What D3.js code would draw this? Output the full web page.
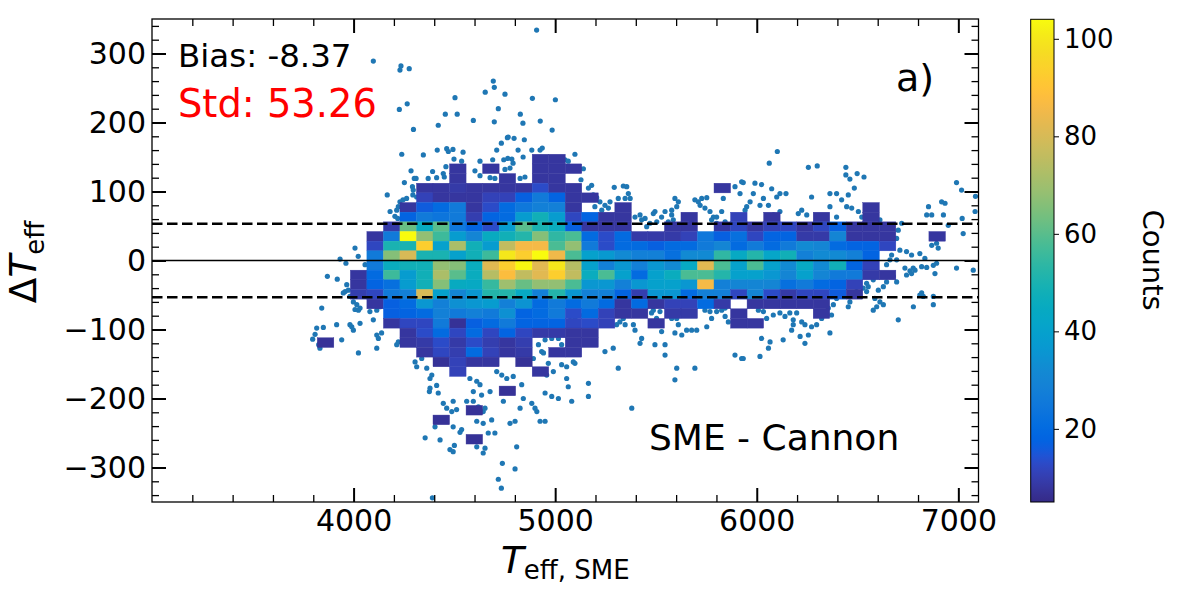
<!DOCTYPE html>
<html>
<head>
<meta charset="utf-8">
<script src="https://cdn.jsdelivr.net/npm/d3@7"></script>
<style>
  body { margin: 0; background: #fff; }
  svg { display: block; font-family: "DejaVu Sans", sans-serif; }
</style>
</head>
<body>
<svg id="chart" width="1200" height="600"></svg>
<script>
// ---- data ----
const bias = -8.37
const std = 53.26

// left edge of each Teff bin (bin width 82 K) and bottom of each dTeff bin (14 K)
const teffBinWidth = 82
const dteffBinHeight = 14
const teffLeft = [3820,3902,3984,4066,4148,4230,4312,4394,4476,4558,4640,4722,4804,4886,4968,5050,5132,5214,5296,5378,
                  5460,5542,5624,5706,5788,5870,5952,6034,6116,6198,6280,6362,6444,6526,6608,6690,6772,6854,6936]
const dteffBottom = [140,126,112,98,84,70,56,42,28,14,0,-14,-28,-42,-56,-70,-84,-98,-112,-126,
                     -140,-154,-168,-182,-196,-210,-224,-238,-252,-266]

// counts per cell, one row per dteffBottom, one column per teffLeft (0 = below cmin, not drawn)
const counts = [
  [0,0,0,0,0,0,0,0,0,0, 0,0,0,8,8,0,0,0,0,0, 0,0,0,0,0,0,0,0,0,0, 0,0,0,0,0,0,0,0,0],
  [0,0,0,0,0,0,0,0,8,0, 8,0,0,8,8,8,0,0,0,0, 0,0,0,0,0,0,0,0,0,0, 0,0,0,0,0,0,0,0,0],
  [0,0,0,0,0,0,0,0,8,0, 0,8,0,8,8,0,0,0,0,0, 0,0,0,0,0,0,0,0,0,0, 0,0,0,0,0,0,0,0,0],
  [0,0,0,0,0,0,8,8,9,8, 8,8,8,13,8,8,0,0,0,0, 0,0,0,0,8,0,0,0,0,0, 0,0,0,0,0,0,0,0,0],
  [0,0,0,0,0,0,11,8,8,8, 11,11,17,26,18,8,8,0,0,0, 0,0,0,0,0,0,0,0,0,0, 0,0,0,0,0,0,0,0,0],
  [0,0,0,0,0,8,16,20,26,8, 13,20,25,28,28,8,0,0,8,0, 0,0,0,0,0,0,0,0,0,0, 0,0,0,8,0,0,0,0,0],
  [0,0,0,0,0,18,26,24,26,10, 18,20,38,48,38,12,18,8,8,0, 0,0,8,0,0,11,0,8,0,0, 8,0,0,8,0,0,0,0,0],
  [0,0,0,0,9,62,45,60,25,18, 13,38,60,50,46,17,8,8,8,0, 0,8,8,0,8,12,8,11,12,8, 12,17,8,8,8,0,0,0,0],
  [0,0,0,8,26,104,68,56,38,30, 45,48,52,66,54,58,20,13,20,9, 9,9,11,25,17,22,12,18,18,9, 9,30,8,8,8,0,0,8,0],
  [0,0,0,12,50,50,93,40,72,48, 38,76,86,86,58,68,26,13,20,20, 17,20,20,26,30,20,26,20,26,32, 30,20,18,18,12,0,0,0,0],
  [0,0,0,26,66,80,50,50,40,48, 56,100,93,104,85,58,40,37,32,28, 28,22,32,32,54,44,52,42,48,28, 32,32,28,18,0,0,0,0,0],
  [0,0,0,26,46,48,48,68,66,46, 82,93,103,82,100,74,40,28,36,28, 36,32,44,82,58,40,58,40,32,44, 32,48,18,11,0,0,0,0,0],
  [0,0,8,20,56,38,48,72,60,46, 74,88,76,82,93,76,46,58,40,20, 40,46,58,58,52,40,40,36,30,40, 30,26,26,9,8,0,0,0,0],
  [0,0,8,18,22,38,48,66,45,44, 55,70,62,68,68,58,36,36,28,36, 40,40,36,86,28,30,30,30,22,26, 20,18,11,0,0,0,0,0,0],
  [0,0,10,12,26,28,80,40,30,36, 52,52,44,28,52,36,28,28,18,10, 36,36,20,28,28,12,30,13,9,12, 12,16,8,0,0,0,0,0,0],
  [0,0,0,8,17,20,36,28,34,36, 38,28,35,20,26,20,26,20,8,20, 8,11,11,20,9,0,8,8,8,8, 8,0,0,0,0,0,0,0,0],
  [0,0,0,0,17,18,20,28,26,28, 26,34,18,20,26,13,20,11,8,8, 0,9,9,0,0,8,0,0,0,0, 8,0,0,0,0,0,0,0,0],
  [0,0,0,0,8,12,12,26,7,17, 20,26,18,18,18,12,13,11,0,0, 8,0,0,0,0,8,8,0,0,0, 0,0,0,0,0,0,0,0,0],
  [0,0,0,0,0,8,13,20,12,20, 12,18,12,9,9,8,8,0,0,0, 0,0,0,0,0,0,0,0,0,0, 0,0,0,0,0,0,0,0,0],
  [7,0,0,0,0,8,9,13,9,13, 10,8,10,0,0,8,8,0,0,0, 0,0,0,0,0,0,0,0,0,0, 0,0,0,0,0,0,0,0,0],
  [0,0,0,0,0,0,8,12,10,20, 11,8,9,0,8,8,0,0,0,0, 0,0,0,0,0,0,0,0,0,0, 0,0,0,0,0,0,0,0,0],
  [0,0,0,0,0,0,0,7,11,8, 8,0,7,0,0,0,0,0,0,0, 0,0,0,0,0,0,0,0,0,0, 0,0,0,0,0,0,0,0,0],
  [0,0,0,0,0,0,0,0,11,0, 0,0,0,8,0,0,0,0,0,0, 0,0,0,0,0,0,0,0,0,0, 0,0,0,0,0,0,0,0,0],
  [0,0,0,0,0,0,0,0,0,0, 0,0,0,0,0,0,0,0,0,0, 0,0,0,0,0,0,0,0,0,0, 0,0,0,0,0,0,0,0,0],
  [0,0,0,0,0,0,0,0,0,0, 0,7,0,0,0,0,0,0,0,0, 0,0,0,0,0,0,0,0,0,0, 0,0,0,0,0,0,0,0,0],
  [0,0,0,0,0,0,0,0,0,0, 0,0,0,0,0,0,0,0,0,0, 0,0,0,0,0,0,0,0,0,0, 0,0,0,0,0,0,0,0,0],
  [0,0,0,0,0,0,0,0,0,7, 0,0,0,0,0,0,0,0,0,0, 0,0,0,0,0,0,0,0,0,0, 0,0,0,0,0,0,0,0,0],
  [0,0,0,0,0,0,0,7,0,0, 0,0,0,0,0,0,0,0,0,0, 0,0,0,0,0,0,0,0,0,0, 0,0,0,0,0,0,0,0,0],
  [0,0,0,0,0,0,0,0,0,0, 0,0,0,0,0,0,0,0,0,0, 0,0,0,0,0,0,0,0,0,0, 0,0,0,0,0,0,0,0,0],
  [0,0,0,0,0,0,0,0,0,7, 0,0,0,0,0,0,0,0,0,0, 0,0,0,0,0,0,0,0,0,0, 0,0,0,0,0,0,0,0,0]
]

// single stars outside the dense bins: [Teff_SME, dTeff]
const stars = [
  [4239,154],[4346,153],[4415,160],[4462,162],[4470,158],[4493,161],[4543,157],[4710,160],[4816,160],[4841,150],
  [4745,146],[4765,148],[4785,147],[4690,146],[4627,144],[4536,144],[4498,147],[4458,136],[4445,126],[4450,121],
  [4392,129],[4412,120],[4370,119],[4285,130],[4310,119],[4301,119],[4252,113],[4292,107],[4296,102],[4167,95],
  [4181,71],[4230,85],[4222,78],[4214,73],[4205,64],[4219,61],[4245,88],[4263,90],[4294,95],[4313,92],
  [4602,130],[4627,123],[4677,120],[4701,119],[4776,134],[4751,132],[4791,141],[4826,119],[4850,121],
  [3962,-4],[3933,2],[4007,18],[4023,6],[4057,-6],[3870,-23],[3919,-27],[3966,-35],[3958,-45],[3949,-47],
  [3974,-43],[3982,-52],[3999,-60],[4016,-64],[4007,-71],[4024,-72],[4032,-69],[3842,-69],[4081,-74],[4098,-86],
  [4115,-72],[4131,-67],[3991,-96],[3999,-101],[3982,-93],[4032,-91],[3817,-98],[3850,-97],[3809,-107],[3797,-114],
  [3827,-122],[3833,-127],[3916,-93],[3941,-115],[4024,-134],[4115,-108],[4123,-113],[4139,-105],[4115,-127],[4164,-76],
  [4181,-89],[4214,-122],[4222,-118],[4305,-147],[4313,-154],[4338,-142],[4363,-156],[4379,-171],[4388,-166],[4412,-181],
  [4420,-192],[4376,-190],[4379,-185],[4445,-207],[4462,-214],[4494,-204],[4487,-219],[4511,-216],[4412,-233],[4404,-241],
  [4494,-241],[4536,-245],[4528,-249],[4355,-257],[4429,-260],[4478,-274],[4494,-277],[4561,-204],[4594,-204],[4619,-212],
  [4643,-219],[4652,-214],[4611,-233],[4643,-236],[4685,-231],[4701,-250],[4668,-250],[4611,-270],[4652,-272],[4643,-279],
  [4611,-175],[4627,-180],[4577,-171],[4594,-190],[4635,-195],[4677,-190],[4710,-161],[4735,-166],[4760,-171],[4792,-168],
  [4834,-180],[4842,-200],[4826,-214],[4776,-236],[4801,-233],[4809,-270],[4743,-204],[4500,-268],[4738,-294],[4801,-302],
  [4718,-317],[4733,-330],[4391,-344],
  [4908,334],[4098,289],[4235,282],[4230,276],[4276,278],[4227,219],[4266,227],[4297,190],[4693,260],[4698,251],
  [4653,244],[4751,241],[4503,236],[4455,212],[4514,212],[4420,196],[4718,220],[4594,203],[4698,201],[4887,235],
  [5001,233],[4827,212],[4840,199],[4926,202],[4985,189],[4733,170],[4763,178],[4767,179],[4796,177],[4847,175],
  [4884,160],[4925,160],[4936,163],[5098,154],[5049,146],[5065,144],[5140,133],[5128,117],[5165,105],[5181,109],
  [5189,95],[5206,91],[5222,85],[5197,78],[5231,73],[5247,80],[5264,76],[5272,85],[5293,106],[5338,108],
  [5355,107],[5363,97],[5372,90],[5347,90],[5313,90],[5421,66],[5446,61],[5454,49],[5487,68],[5495,71],
  [5528,63],[5545,71],[5578,73],[5578,66],[5603,78],[5611,85],[5594,90],[5693,88],[5710,85],[5727,90],
  [5752,91],[5719,80],[5743,76],[5768,71],[5785,63],[5801,63],[5826,71],[5834,90],[5851,107],[5892,107],
  [5917,97],[5925,114],[5826,107],[5396,63],[5429,59],[5470,54],[5504,56],[5561,56],[5586,59],[5644,51],
  [5677,56],[5776,59],[5801,54],[5843,56],
  [5098,-84],[5140,-79],[5115,-76],[5074,-81],[5280,-91],[5305,-93],[5321,-89],[5338,-84],[5347,-93],[5388,-93],
  [5396,-101],[5421,-120],[5429,-113],[5478,-76],[5503,-84],[5512,-93],[5528,-103],[5545,-122],[5495,-122],[5578,-84],
  [5603,-84],[5611,-93],[5628,-108],[5652,-101],[5677,-101],[5702,-101],[5752,-96],[5776,-84],[5801,-74],[5826,-72],
  [5843,-81],[5859,-89],[5892,-91],[5892,-137],[5925,-142],[5603,-156],[5693,-156],[5594,-173],[5545,-137],[5313,-156],
  [5247,-132],[5288,-127],[5165,-178],[5165,-197],[5082,-204],[5016,-200],[4983,-197],[4950,-192],[4900,-214],[4909,-219],
  [4884,-207],[4925,-233],[4950,-233],[5057,-171],[5065,-183],[5098,-149],[5090,-147],[5057,-154],[5032,-151],[4966,-149],
  [4991,-161],[4958,-166],[5380,-214],[4917,-122],[4933,-132],[4942,-134],[4892,-142],[4950,-115],[4983,-113],[5016,-113],
  [5032,-122],[5594,-105],[5487,-72],[5520,-74],[5578,-74],[5628,-76],[5685,-74],[5743,-72],[5768,-74],[5843,-69],
  [5909,-74],
  [6102,158],[6062,141],[6256,135],[6300,137],[6442,135],[6442,124],[6462,118],[6498,126],[6532,121],[6484,105],
  [5933,113],[5991,112],[6024,110],[6074,104],[6099,92],[6115,97],[6145,97],[6033,90],[5983,97],[6272,92],
  [6363,97],[6396,97],[6421,88],[6454,95],[6446,78],[6471,76],[5967,85],[5950,78],[5942,73],[6016,80],
  [6058,80],[6083,66],[6115,71],[6206,68],[6223,73],[6248,66],[6363,78],[6396,63],[6504,71],[6521,63],
  [6611,59],[6628,51],[6719,54],[6702,44],[6852,78],[6868,66],[6843,66],[6917,85],[6934,83],[6926,66],
  [6950,51],[6991,113],[7016,102],[7019,61],[7024,39],[6694,32],[6710,15],[6743,13],[6768,8],[6809,10],
  [6868,22],[6892,25],[6900,18],[6884,34],[6834,3],[6669,8],[6694,1],[6661,1],[6735,-11],[6760,-15],
  [6776,-11],[6785,-14],[6743,-21],[6768,-19],[6818,-9],[6843,-10],[6876,-7],[6884,-19],[6892,-4],[6991,-11],
  [6644,-6],[6677,-23],[6694,-31],[6644,-31],[6628,-38],[6603,-43],[6578,-28],[6553,-38],[6545,-45],[6586,-55],
  [6611,-60],[6628,-64],[6595,-67],[6578,-72],[6462,-60],[6454,-67],[6396,-55],[6380,-64],[6355,-69],[6347,-76],
  [6371,-79],[6322,-84],[6297,-93],[6272,-96],[6239,-93],[6223,-89],[6181,-86],[6198,-76],[6164,-76],[6140,-81],
  [6115,-76],[6082,-79],[6049,-84],[6033,-74],[6008,-72],[6181,-93],[6173,-101],[6215,-110],[6256,-108],[6131,-115],
  [6066,-118],[6058,-127],[6024,-113],[5933,-142],[6016,-139],[6363,-105],[6239,-120],[6702,-86],[6777,-67],[6809,-50],
  [6876,-64],[6826,-52],[6876,-52],[6818,-47],[6495,-45],[6528,-40],[6545,-33],[6479,-52],[7083,71],[7074,-14],
  [7085,93]
]

const xMajor = [4000, 5000, 6000, 7000]
const yMajor = [-300, -200, -100, 0, 100, 200, 300]
const cbTicks = [20, 40, 60, 80, 100]
const countRange = [5, 104]

// parula colormap (64 steps)
const parula = [
  [0.2081,0.1663,0.5292],[0.2116,0.1898,0.5777],[0.2123,0.2138,0.6270],[0.2081,0.2386,0.6771],
  [0.1959,0.2645,0.7279],[0.1707,0.2919,0.7792],[0.1253,0.3242,0.8303],[0.0591,0.3598,0.8683],
  [0.0117,0.3875,0.8820],[0.0060,0.4086,0.8828],[0.0165,0.4266,0.8786],[0.0329,0.4430,0.8720],
  [0.0498,0.4586,0.8641],[0.0629,0.4737,0.8554],[0.0723,0.4887,0.8467],[0.0779,0.5040,0.8384],
  [0.0793,0.5200,0.8312],[0.0749,0.5375,0.8263],[0.0641,0.5570,0.8240],[0.0488,0.5772,0.8228],
  [0.0343,0.5966,0.8199],[0.0265,0.6137,0.8135],[0.0239,0.6287,0.8038],[0.0231,0.6418,0.7913],
  [0.0228,0.6535,0.7768],[0.0267,0.6642,0.7607],[0.0384,0.6743,0.7436],[0.0590,0.6838,0.7254],
  [0.0843,0.6928,0.7062],[0.1133,0.7015,0.6859],[0.1453,0.7098,0.6646],[0.1801,0.7177,0.6424],
  [0.2178,0.7250,0.6193],[0.2586,0.7317,0.5954],[0.3022,0.7376,0.5712],[0.3482,0.7424,0.5473],
  [0.3953,0.7459,0.5244],[0.4420,0.7481,0.5033],[0.4871,0.7491,0.4840],[0.5300,0.7491,0.4661],
  [0.5709,0.7485,0.4494],[0.6099,0.7473,0.4337],[0.6473,0.7456,0.4188],[0.6834,0.7435,0.4044],
  [0.7184,0.7411,0.3905],[0.7525,0.7384,0.3768],[0.7858,0.7356,0.3633],[0.8185,0.7327,0.3498],
  [0.8507,0.7299,0.3360],[0.8824,0.7274,0.3217],[0.9139,0.7258,0.3063],[0.9450,0.7261,0.2886],
  [0.9739,0.7314,0.2666],[0.9938,0.7455,0.2403],[0.9990,0.7653,0.2164],[0.9955,0.7861,0.1967],
  [0.9880,0.8066,0.1794],[0.9789,0.8271,0.1633],[0.9697,0.8481,0.1475],[0.9626,0.8705,0.1309],
  [0.9589,0.8949,0.1132],[0.9598,0.9218,0.0948],[0.9661,0.9514,0.0755],[0.9763,0.9831,0.0538]
].map(c => d3.rgb(c[0]*255, c[1]*255, c[2]*255).formatHex())

// ---- layout ----
const svg = d3.select('#chart')
const pL = 152, pR = 978.5, pT = 19, pB = 502

const x = d3.scaleLinear().domain([3000, 7100]).range([pL, pR])
const y = d3.scaleLinear().domain([-350, 350]).range([pB, pT])
const color = d3.scaleSequential(d3.piecewise(d3.interpolateRgb, parula)).domain(countRange)

svg.append('clipPath').attr('id', 'plotclip')
  .append('rect').attr('x', pL).attr('y', pT).attr('width', pR - pL).attr('height', pB - pT)

const plot = svg.append('g').attr('clip-path', 'url(#plotclip)')

// stars first, the histogram sits on top
plot.append('g').selectAll('circle')
  .data(stars)
  .join('circle')
  .attr('cx', d => x(d[0]))
  .attr('cy', d => y(d[1]))
  .attr('r', 2.6)
  .attr('fill', '#1f77b4')

// flatten grid into cells
const cells = []
dteffBottom.forEach((b, i) => {
  teffLeft.forEach((t, j) => {
    const n = counts[i][j]
    if (n > 0) cells.push({ t, b, n })
  })
})

plot.append('g').selectAll('rect')
  .data(cells)
  .join('rect')
  .attr('x', d => x(d.t))
  .attr('y', d => y(d.b + dteffBinHeight))
  .attr('width', d => x(d.t + teffBinWidth) - x(d.t))
  .attr('height', d => y(d.b) - y(d.b + dteffBinHeight))
  .attr('fill', d => color(d.n))
  .attr('stroke', d => color(d.n))
  .attr('stroke-width', 0.4)

// zero line and +-std lines
plot.append('line')
  .attr('x1', pL).attr('x2', pR)
  .attr('y1', y(0)).attr('y2', y(0))
  .attr('stroke', '#000').attr('stroke-width', 1.3)

plot.selectAll('line.std')
  .data([std, -std])
  .join('line')
  .attr('class', 'std')
  .attr('x1', pL).attr('x2', pR)
  .attr('y1', d => y(d)).attr('y2', d => y(d))
  .attr('stroke', '#000').attr('stroke-width', 2.6)
  .attr('stroke-dasharray', '10.5,4.5')

// ---- axes (ticks inward on all four sides) ----
const fmt = d3.format('d')
const xMinor = d3.range(3200, 7100, 200).filter(v => !xMajor.includes(v))
const yMinor = d3.range(-340, 350, 20).filter(v => !yMajor.includes(v))

function styleAxis(g, fontSize) {
  // d3 puts font-family="sans-serif" on the group; drop it so DejaVu Sans is inherited
  g.attr('font-family', null).attr('font-size', null)
  g.select('.domain').remove()
  g.selectAll('.tick line').attr('stroke', '#000')
  g.selectAll('text').attr('fill', '#000').style('font-size', fontSize)
}

function addAxis(axisFn, scale, pos, majors, minors, labels) {
  const gMin = svg.append('g').attr('transform', pos)
    .call(axisFn(scale).tickValues(minors).tickSize(-7).tickFormat(''))
  styleAxis(gMin, '0px')
  gMin.selectAll('.tick line').attr('stroke-width', 1.3)
  const gMaj = svg.append('g').attr('transform', pos)
    .call(axisFn(scale).tickValues(majors).tickSize(-14).tickPadding(labels ? 8 : 0)
      .tickFormat(labels ? fmt : ''))
  styleAxis(gMaj, '30px')
  gMaj.selectAll('.tick line').attr('stroke-width', 2)
  return gMaj
}

addAxis(d3.axisBottom, x, `translate(0,${pB})`, xMajor, xMinor, true)
addAxis(d3.axisTop, x, `translate(0,${pT})`, xMajor, xMinor, false)
const yAx = addAxis(d3.axisLeft, y, `translate(${pL},0)`, yMajor, yMinor, true)
yAx.selectAll('text').attr('x', -6)
addAxis(d3.axisRight, y, `translate(${pR},0)`, yMajor, yMinor, false)

// frame
svg.append('rect')
  .attr('x', pL).attr('y', pT).attr('width', pR - pL).attr('height', pB - pT)
  .attr('fill', 'none').attr('stroke', '#000').attr('stroke-width', 1.3)

// ---- axis labels ----
const xl = svg.append('text')
  .attr('x', (pL + pR) / 2).attr('y', 573)
  .attr('text-anchor', 'middle').style('font-size', '37.5px')
xl.append('tspan').style('font-style', 'italic').text('T')
xl.append('tspan').attr('dy', 6).style('font-size', '26px').text('eff, SME')

const yl = svg.append('text')
  .attr('transform', 'translate(36,262) rotate(-90)')
  .attr('text-anchor', 'middle').style('font-size', '37.5px')
yl.append('tspan').text('Δ')
yl.append('tspan').style('font-style', 'italic').text('T')
yl.append('tspan').attr('dy', 8).style('font-size', '26px').text('eff')

// ---- annotations ----
svg.append('text').attr('x', 178).attr('y', 66.5)
  .style('font-size', '32.5px').attr('fill', '#000')
  .text(`Bias: ${bias.toFixed(2)}`)
svg.append('text').attr('x', 178).attr('y', 116.5)
  .style('font-size', '38.4px').attr('fill', 'red')
  .text(`Std: ${std.toFixed(2)}`)
svg.append('text').attr('x', 896).attr('y', 91)
  .style('font-size', '38px').text('a)')
svg.append('text').attr('x', 649).attr('y', 450)
  .style('font-size', '36px').text('SME - Cannon')

// ---- colorbar ----
const cbX = 1030.7, cbW = 23.3
const cbY = d3.scaleLinear().domain(countRange).range([pB, 19.3])

const grad = svg.append('defs').append('linearGradient')
  .attr('id', 'cbgrad').attr('x1', 0).attr('y1', 1).attr('x2', 0).attr('y2', 0)
grad.selectAll('stop')
  .data(parula)
  .join('stop')
  .attr('offset', (d, i) => i / (parula.length - 1))
  .attr('stop-color', d => d)

svg.append('rect')
  .attr('x', cbX).attr('y', cbY.range()[1])
  .attr('width', cbW).attr('height', cbY.range()[0] - cbY.range()[1])
  .attr('fill', 'url(#cbgrad)')
  .attr('stroke', '#000').attr('stroke-width', 1)

const cbAx = svg.append('g')
  .attr('transform', `translate(${cbX + cbW},0)`)
  .call(d3.axisRight(cbY).tickValues(cbTicks).tickSize(5).tickPadding(5).tickFormat(fmt))
styleAxis(cbAx, '26px')
cbAx.selectAll('.tick line').attr('stroke-width', 1)

svg.append('text')
  .attr('transform', 'translate(1143,260) rotate(90)')
  .attr('text-anchor', 'middle')
  .style('font-size', '29px')
  .text('Counts')
</script>
</body>
</html>
